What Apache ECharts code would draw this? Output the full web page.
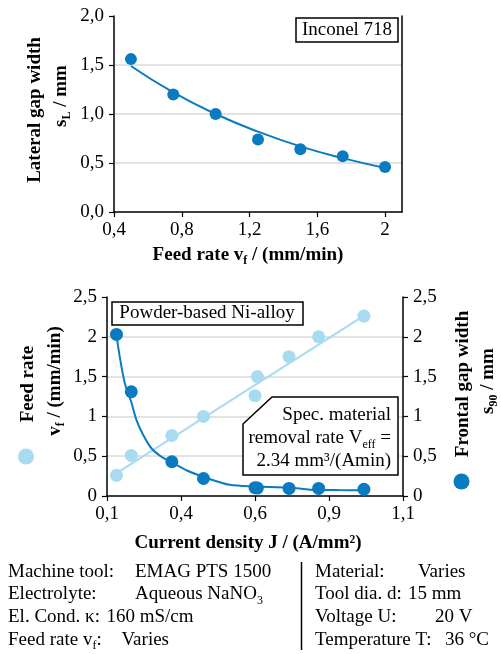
<!DOCTYPE html>
<html><head><meta charset="utf-8">
<script src="https://cdn.jsdelivr.net/npm/echarts@6/dist/echarts.min.js"></script>
<style>html,body{margin:0;padding:0;background:#fff}#c{width:501px;height:654px}</style>
</head><body><div id="c"></div>
<script>
// ---- Top chart: Inconel 718 ----
const topFeedRate = [0.5, 0.75, 1.0, 1.25, 1.5, 1.75, 2.0];
const topLateralGap = [1.56, 1.20, 1.00, 0.74, 0.64, 0.57, 0.46];
const topFitX = [0.5, 0.75, 1.0, 1.25, 1.5, 1.75, 2.0];
const topFitY = [1.49, 1.22, 1.00, 0.82, 0.67, 0.55, 0.45];
const topXTickValues = [0.4, 0.8, 1.2, 1.6, 2.0];
const topXTickLabels = ['0,4', '0,8', '1,2', '1,6', '2'];
const topYTickValues = [0, 0.5, 1.0, 1.5, 2.0];
const topYTickLabels = ['0,0', '0,5', '1,0', '1,5', '2,0'];

// ---- Bottom chart: Powder-based Ni-alloy ----
const currentDensity = [0.132, 0.182, 0.319, 0.426, 0.600, 0.608, 0.715, 0.815, 0.968];
const feedRate = [0.26, 0.51, 0.76, 1.00, 1.26, 1.50, 1.75, 2.00, 2.26];
const frontalGap = [2.03, 1.31, 0.43, 0.22, 0.105, 0.10, 0.095, 0.095, 0.085];
const feedFitX = [0.13, 0.97];
const feedFitY = [0.28, 2.27];
const gapFitX = [0.132, 0.143, 0.160, 0.182, 0.200, 0.222, 0.250, 0.285, 0.320, 0.370, 0.430, 0.515, 0.600, 0.717, 0.787, 0.880, 0.970];
const gapFitY = [2.02, 1.75, 1.42, 1.18, 0.95, 0.77, 0.60, 0.49, 0.42, 0.32, 0.235, 0.14, 0.12, 0.105, 0.08, 0.075, 0.072];
const botXTickValues = [0.1, 0.35, 0.6, 0.85, 1.1];
const botXTickLabels = ['0,1', '0,4', '0,6', '0,9', '1,1'];
const botYTickValues = [0, 0.5, 1, 1.5, 2, 2.5];
const botYTickLabels = ['0', '0,5', '1', '1,5', '2', '2,5'];

const SERIF = '"Liberation Serif", "Times New Roman", serif';
const DARK = '#0a7bc1';
const LIGHT = '#a8dbf0';
const GRID = '#d9d9d9';

function zip(a, b) { return a.map((v, i) => [v, b[i]]); }
function lab(vals, labels) {
  return function (v) {
    for (let i = 0; i < vals.length; i++) if (Math.abs(vals[i] - v) < 1e-6) return labels[i];
    return '';
  };
}
const tickLabelStyle = { color: '#000', fontFamily: SERIF, fontSize: 19 };
const axisLineStyle = { lineStyle: { color: '#000', width: 1.5 } };
const tickStyle = { show: true, length: 5, inside: false, lineStyle: { color: '#000', width: 1.2 } };

const rich = {
  b: { fontFamily: SERIF, fontWeight: 'bold', fontSize: 19, lineHeight: 24, fill: '#000', color: '#000' },
  bs: { fontFamily: SERIF, fontWeight: 'bold', fontSize: 12, lineHeight: 12, verticalAlign: 'bottom', color: '#000' },
  n: { fontFamily: SERIF, fontSize: 19, lineHeight: 24, color: '#000' },
  ns: { fontFamily: SERIF, fontSize: 12, lineHeight: 12, verticalAlign: 'bottom', color: '#000' }
};
function T(x, y, text, opts) {
  opts = opts || {};
  return {
    type: 'text', x: x, y: y, rotation: opts.rot || 0, z: 100,
    style: { text: text, rich: rich, align: opts.align || 'center', verticalAlign: 'middle', fill: '#000',
      font: (opts.bold ? 'bold ' : '') + (opts.size || 19) + 'px ' + SERIF }
  };
}
const R = Math.PI / 2;

const graphics = [
  // top chart legend box
  { type: 'rect', shape: { x: 296, y: 18, width: 102, height: 24 }, style: { fill: '#fff', stroke: '#000', lineWidth: 1.5 }, z: 90 },
  T(347, 30.5, '{n|Inconel 718}'),
  // top chart axis titles
  T(35, 110, '{b|Lateral gap width}', { rot: R }),
  T(61, 96, '{b|s}{bs|L}{b| / mm}', { rot: R }),
  T(248, 255, '{b|Feed rate v}{bs|f}{b| / (mm/min)}'),
  // bottom chart boxes
  { type: 'rect', shape: { x: 112, y: 302, width: 191, height: 23 }, style: { fill: '#fff', stroke: '#000', lineWidth: 1.5 }, z: 90 },
  T(207, 313.5, '{n|Powder-based Ni-alloy}'),
  { type: 'polygon', shape: { points: [[243, 424], [272, 397], [398, 397], [398, 475], [243, 475]] }, style: { fill: '#fff', stroke: '#000', lineWidth: 1.5 }, z: 90 },
  T(391, 415, '{n|Spec. material}', { align: 'right' }),
  T(391, 438.5, '{n|removal rate V}{ns|eff}{n| =}', { align: 'right' }),
  T(391, 461.5, '{n|2.34 mm³/(Amin)}', { align: 'right' }),
  // bottom chart axis titles
  T(28, 384, '{b|Feed rate}', { rot: R }),
  T(55, 381, '{b|v}{bs|f}{b| / (mm/min)}', { rot: R }),
  { type: 'circle', shape: { cx: 26, cy: 456.5, r: 8 }, style: { fill: LIGHT }, z: 100 },
  T(463, 384, '{b|Frontal gap width}', { rot: R }),
  T(488, 381, '{b|s}{bs|90}{b| / mm}', { rot: R }),
  { type: 'circle', shape: { cx: 461.5, cy: 481.5, r: 8 }, style: { fill: DARK }, z: 100 },
  T(248, 543, '{b|Current density J / (A/mm²)}'),
  // bottom info block
  T(8, 572, '{n|Machine tool:}', { align: 'left' }),
  T(135, 572, '{n|EMAG PTS 1500}', { align: 'left' }),
  T(8, 594.5, '{n|Electrolyte:}', { align: 'left' }),
  T(135, 594.5, '{n|Aqueous NaNO}{ns|3}', { align: 'left' }),
  T(8, 617, '{n|El. Cond. κ:}', { align: 'left' }),
  T(106.5, 617, '{n|160 mS/cm}', { align: 'left' }),
  T(8, 640, '{n|Feed rate v}{ns|f}{n|:}', { align: 'left' }),
  T(121.5, 640, '{n|Varies}', { align: 'left' }),
  { type: 'line', shape: { x1: 301.5, y1: 562, x2: 301.5, y2: 650 }, style: { stroke: '#000', lineWidth: 1.5 }, z: 100 },
  T(315, 572, '{n|Material:}', { align: 'left' }),
  T(418, 572, '{n|Varies}', { align: 'left' }),
  T(315, 594.5, '{n|Tool dia. d:}', { align: 'left' }),
  T(408, 594.5, '{n|15 mm}', { align: 'left' }),
  T(315, 617, '{n|Voltage U:}', { align: 'left' }),
  T(435, 617, '{n|20 V}', { align: 'left' }),
  T(315, 640, '{n|Temperature T:}', { align: 'left' }),
  T(445, 640, '{n|36 °C}', { align: 'left' })
];

const chart = echarts.init(document.getElementById('c'), null, { renderer: 'canvas' });
chart.setOption({
  animation: false,
  backgroundColor: '#fff',
  grid: [
    { left: 114, top: 16, width: 288, height: 196 },
    { left: 107, top: 297, width: 296, height: 199 }
  ],
  xAxis: [
    { gridIndex: 0, type: 'value', min: 0.4, max: 2.1,
      axisLine: axisLineStyle,
      axisTick: Object.assign({ customValues: topXTickValues }, tickStyle),
      axisLabel: Object.assign({ customValues: topXTickValues, formatter: lab(topXTickValues, topXTickLabels), margin: 9 }, tickLabelStyle),
      splitLine: { show: false } },
    { gridIndex: 1, type: 'value', min: 0.1, max: 1.1,
      axisLine: axisLineStyle,
      axisTick: Object.assign({ customValues: botXTickValues }, tickStyle),
      axisLabel: Object.assign({ customValues: botXTickValues, formatter: lab(botXTickValues, botXTickLabels), margin: 9 }, tickLabelStyle),
      splitLine: { show: false } }
  ],
  yAxis: [
    { gridIndex: 0, type: 'value', min: 0, max: 2.0, interval: 0.5,
      axisLine: { show: true, lineStyle: { color: '#000', width: 1.5 } },
      axisTick: tickStyle,
      axisLabel: Object.assign({ formatter: lab(topYTickValues, topYTickLabels), margin: 10 }, tickLabelStyle),
      splitLine: { show: true, showMinLine: false, showMaxLine: false, lineStyle: { color: GRID, width: 1.5 } } },
    { gridIndex: 0, type: 'value', min: 0, max: 2.0, interval: 0.5, position: 'right',
      axisLine: { show: true, lineStyle: { color: '#000', width: 1.5 } },
      axisTick: { show: false }, axisLabel: { show: false }, splitLine: { show: false } },
    { gridIndex: 1, type: 'value', min: 0, max: 2.5, interval: 0.5,
      axisLine: { show: true, lineStyle: { color: '#000', width: 1.5 } },
      axisTick: tickStyle,
      axisLabel: Object.assign({ formatter: lab(botYTickValues, botYTickLabels), margin: 10 }, tickLabelStyle),
      splitLine: { show: true, showMinLine: false, showMaxLine: false, lineStyle: { color: GRID, width: 1.5 } } },
    { gridIndex: 1, type: 'value', min: 0, max: 2.5, interval: 0.5, position: 'right',
      axisLine: { show: true, lineStyle: { color: '#000', width: 1.5 } },
      axisTick: tickStyle,
      axisLabel: Object.assign({ formatter: lab(botYTickValues, botYTickLabels), margin: 10 }, tickLabelStyle),
      splitLine: { show: false } }
  ],
  series: [
    { type: 'line', xAxisIndex: 0, yAxisIndex: 0, data: zip(topFitX, topFitY), smooth: true, showSymbol: false,
      lineStyle: { color: DARK, width: 2 }, z: 2 },
    { type: 'scatter', xAxisIndex: 0, yAxisIndex: 0, data: zip(topFeedRate, topLateralGap), symbolSize: 12,
      itemStyle: { color: DARK, opacity: 1 }, z: 3 },
    { type: 'line', xAxisIndex: 1, yAxisIndex: 2, data: zip(feedFitX, feedFitY), showSymbol: false,
      lineStyle: { color: LIGHT, width: 2 }, z: 2 },
    { type: 'scatter', xAxisIndex: 1, yAxisIndex: 2, data: zip(currentDensity, feedRate), symbolSize: 13,
      itemStyle: { color: LIGHT, opacity: 1 }, z: 3 },
    { type: 'line', xAxisIndex: 1, yAxisIndex: 3, data: zip(gapFitX, gapFitY), smooth: 0.3, showSymbol: false,
      lineStyle: { color: DARK, width: 2 }, z: 4 },
    { type: 'scatter', xAxisIndex: 1, yAxisIndex: 3, data: zip(currentDensity, frontalGap), symbolSize: 13,
      itemStyle: { color: DARK, opacity: 1 }, z: 5 }
  ],
  graphic: graphics
});
</script>
</body></html>
